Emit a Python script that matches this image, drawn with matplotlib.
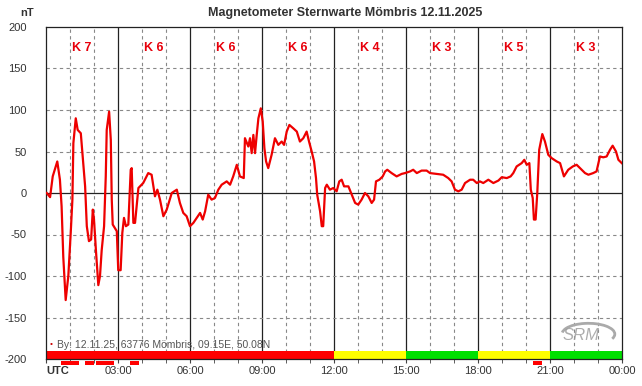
import matplotlib
matplotlib.use("Agg")
import matplotlib.pyplot as plt
from matplotlib.patches import Rectangle, Arc

plt.rcParams["font.family"] = ["Liberation Sans", "DejaVu Sans"]

# trace (hour UTC, nT)
hours = [0.03, 0.17, 0.28, 0.47, 0.58, 0.65, 0.72, 0.82, 0.93, 1.03, 1.10, 1.14, 1.24, 1.32,
         1.45, 1.53, 1.63, 1.70, 1.79, 1.88, 1.95, 2.00, 2.08, 2.18, 2.25, 2.32, 2.42, 2.49,
         2.53, 2.63, 2.70, 2.74, 2.78, 2.95, 3.01, 3.11, 3.18, 3.25, 3.33, 3.43, 3.53, 3.57,
         3.64, 3.71, 3.85, 4.05, 4.26, 4.40, 4.54, 4.64, 4.75, 4.89, 5.03, 5.24, 5.45, 5.58,
         5.72, 5.86, 6.00, 6.14, 6.28, 6.42, 6.53, 6.63, 6.76, 6.90, 7.04, 7.18, 7.32, 7.53,
         7.67, 7.80, 7.95, 8.08, 8.24, 8.29, 8.43, 8.50, 8.57, 8.64, 8.71, 8.78, 8.85, 8.95,
         9.03, 9.10, 9.17, 9.26, 9.40, 9.54, 9.68, 9.82, 9.92, 10.03, 10.14, 10.30, 10.45,
         10.58, 10.72, 10.86, 10.96, 11.07, 11.17, 11.25, 11.30, 11.42, 11.49, 11.55, 11.63,
         11.70, 11.83, 11.97, 12.11, 12.22, 12.32, 12.42, 12.60, 12.74, 12.88, 13.01, 13.15,
         13.29, 13.43, 13.57, 13.67, 13.75, 13.89, 14.03, 14.13, 14.22, 14.40, 14.61, 14.82,
         14.96, 15.17, 15.30, 15.45, 15.65, 15.86, 16.00, 16.28, 16.55, 16.76, 16.90, 17.04,
         17.18, 17.32, 17.46, 17.67, 17.80, 17.95, 18.08, 18.22, 18.43, 18.64, 18.85, 18.99,
         19.20, 19.36, 19.47, 19.61, 19.82, 19.93, 20.03, 20.14, 20.20, 20.28, 20.33, 20.40,
         20.47, 20.55, 20.68, 20.79, 20.93, 21.07, 21.28, 21.42, 21.58, 21.76, 21.95, 22.11,
         22.25, 22.46, 22.60, 22.80, 22.94, 23.08, 23.22, 23.36, 23.50, 23.61, 23.75, 23.85,
         23.99]
by_nt = [0, -5, 20, 38, 16, -16, -77, -129, -100, -48, -8, 60, 90, 76,
         72, 44, 8, -40, -58, -56, -20, -32, -69, -111, -100, -69, -40, 20,
         76, 98, 64, -8, -38, -46, -93, -93, -48, -30, -40, -38, 28, 30,
         -36, -36, 6, 12, 24, 22, -4, 4, -8, -28, -20, 0, 4, -12,
         -24, -28, -40, -36, -30, -24, -32, -22, -2, -8, -6, 4, 10, 14,
         10, 20, 34, 20, 18, 66, 56, 66, 48, 70, 48, 70, 90, 102,
         86, 54, 38, 30, 46, 66, 58, 62, 58, 74, 82, 78, 74,
         62, 66, 74, 62, 50, 38, 18, -2, -22, -40, -40, 6,
         10, 4, 6, 2, 14, 16, 8, 8, -2, -12, -14, -8,
         0, -4, -12, -8, 14, 16, 20, 26, 28, 24, 20, 23,
         24, 26, 28, 24, 27, 27, 24, 23, 22, 18, 14, 4,
         2, 4, 12, 16, 16, 12, 14, 12, 16, 12, 15, 19,
         18, 20, 24, 32, 36, 40, 34, 36, 4, -6, -32, -32,
         0, 52, 71, 62, 46, 42, 38, 36, 20, 28, 32, 34,
         30, 24, 22, 24, 26, 44, 43, 44, 52, 57, 50, 40,
         36]

k_labels = ["K 7", "K 6", "K 6", "K 6", "K 4", "K 3", "K 5", "K 3"]
k_colors = ["#ff0000", "#ff0000", "#ff0000", "#ff0000", "#ffff00", "#00e000", "#ffff00", "#00e000"]
# short bars under the axis (start, end hour)
storm_marks = [(0.63, 1.38), (1.63, 2.0), (2.08, 2.83), (3.5, 3.88), (20.29, 20.67)]
tick_labels = ["UTC", "03:00", "06:00", "09:00", "12:00", "15:00", "18:00", "21:00", "00:00"]

DARK = "#333333"
fig = plt.figure(figsize=(6.42, 3.86), dpi=100)
ax = fig.add_axes([46 / 642, 27 / 386, 576 / 642, 332 / 386])
ax.set_xlim(0, 24)
ax.set_ylim(-200, 200)

for h in range(1, 24):
    if h % 3:
        ax.axvline(h, color="#888888", lw=0.8, ls=(0, (3, 3)), zorder=1)
    else:
        ax.axvline(h, color="#222222", lw=0.9, zorder=1)
for v in (-150, -100, -50, 50, 100, 150):
    ax.axhline(v, color="#888888", lw=0.8, ls=(0, (3, 3)), zorder=1)
ax.axhline(0, color="#222222", lw=0.9, zorder=1)

# K-index colour band and labels
for i, (lab, col) in enumerate(zip(k_labels, k_colors)):
    ax.add_patch(Rectangle((3 * i, -200), 3, 10, color=col, lw=0, zorder=2))
    ax.text(3 * i + 1.5, 175, lab, color="#e8000b", fontsize=9, fontweight="bold",
            ha="center", va="center")
for a, b in storm_marks:
    ax.add_patch(Rectangle((a, -207.5), b - a, 4.5, color="#ff0000", lw=0,
                           clip_on=False, zorder=3))

ax.plot(hours, by_nt, color="#ee0000", lw=1.6, zorder=4)

ax.text(0.15, -183, "\u2022", color="#cc0000", fontsize=6, va="center")
ax.text(0.45, -183, "By: 12.11.25, 63776 Mömbris, 09.15E, 50.08N", color="#555555",
        fontsize=7.5, va="center")

# SRM logo
ax.text(22.3, -172, "SRM", color="#999999", fontsize=12, style="italic",
        ha="center", va="center", alpha=0.8)
ax.add_patch(Arc((22.6, -170), 2.2, 26, theta1=-80, theta2=120, color="#aaaaaa", lw=2))

ax.set_yticks(range(-200, 201, 50))
ax.set_yticklabels([str(v) for v in range(-200, 201, 50)], color=DARK, fontsize=8)
ax.set_xticks(range(0, 25, 3))
ax.set_xticks(range(0, 25), minor=True)
ax.set_xticklabels(tick_labels, color=DARK, fontsize=8)
ax.get_xticklabels()[0].set_fontweight("bold")
ax.get_xticklabels()[0].set_horizontalalignment("left")
ax.tick_params(axis="y", length=0, pad=14)
ax.tick_params(axis="x", which="both", length=3, pad=2, color="#444444")
for lab in ax.get_yticklabels():
    lab.set_horizontalalignment("right")
for s in ax.spines.values():
    s.set_color("#222222")
    s.set_linewidth(0.9)

fig.text(20 / 642, 1 - 13 / 386, "nT", color=DARK, fontsize=8, fontweight="bold", va="center")
fig.text(345 / 642, 1 - 13 / 386, "Magnetometer Sternwarte Mömbris 12.11.2025", color=DARK,
         fontsize=9, fontweight="bold", ha="center", va="center")

fig.savefig("out.png", dpi=100)
